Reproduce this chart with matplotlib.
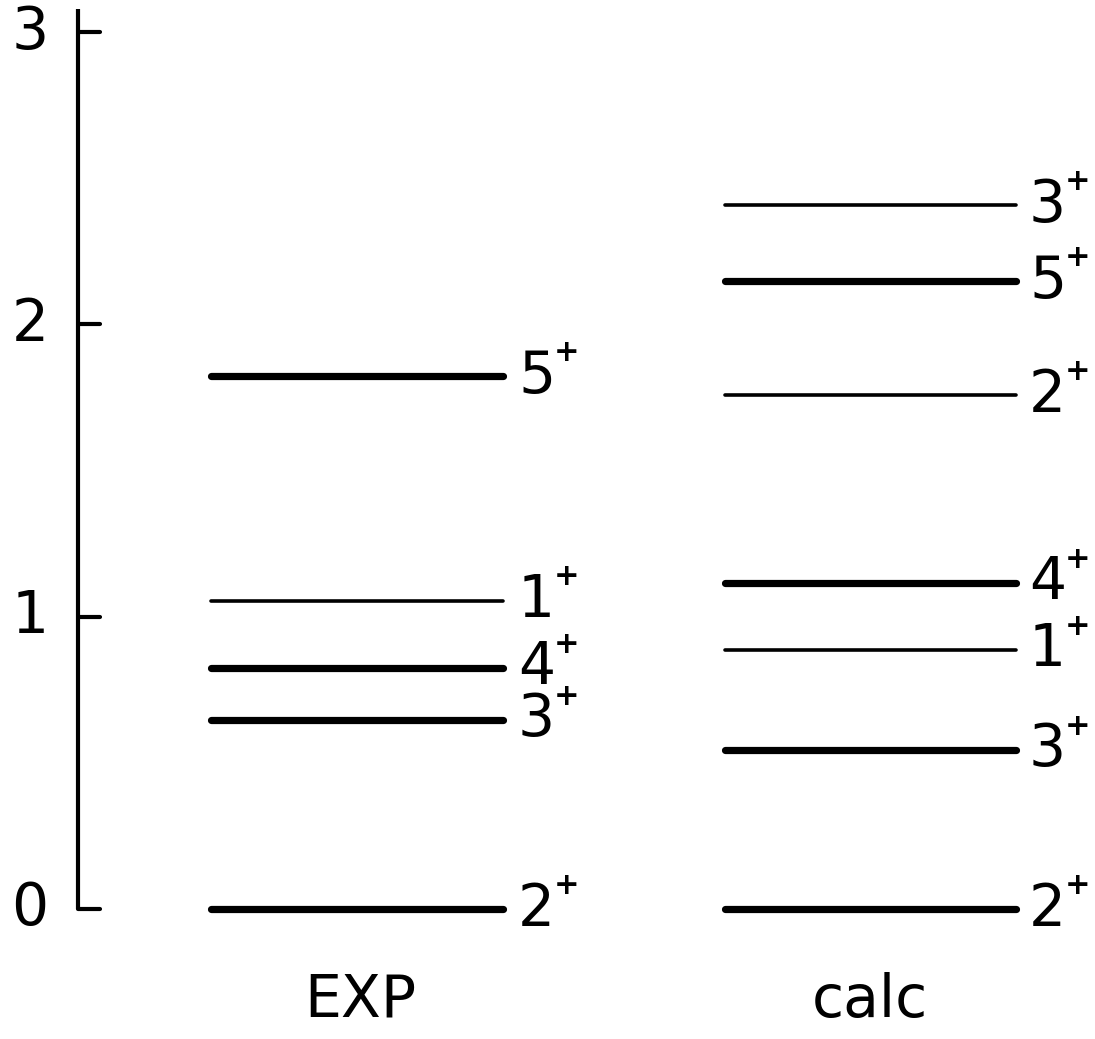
import matplotlib
matplotlib.use("Agg")
import matplotlib.pyplot as plt

# ---- data ----
exp_energies = [0.0, 0.647, 0.825, 1.055, 1.822]
exp_spins = ["2", "3", "4", "1", "5"]
exp_thick = [True, True, True, False, True]

calc_energies = [0.0, 0.545, 0.887, 1.116, 1.757, 2.147, 2.408]
calc_spins = ["2", "3", "1", "4", "2", "5", "3"]
calc_thick = [True, True, False, True, False, True, False]

yticks = [0, 1, 2, 3]
ytick_labels = ["0", "1", "2", "3"]
column_names = ["EXP", "calc"]

# ---- figure ----
W, H, DPI = 1095, 1039, 100
fig = plt.figure(figsize=(W / DPI, H / DPI), dpi=DPI)
ax = fig.add_axes([0, 0, 1, 1])
ax.set_xlim(0, W)
# y=0 at pixel row 909, y=3 at pixel row 32
ppu = (909 - 32) / 3.0
ax.set_ylim((909 - H) / ppu, 909 / ppu)
ax.axis("off")

FONT = dict(family="DejaVu Sans", color="black")
FS = 42
thick_lw, thin_lw = 5.2, 2.6

# vertical energy axis
ax.plot([78, 78], [0, 3.08], color="black", lw=3.0, solid_capstyle="butt")
for t, lab in zip(yticks, ytick_labels):
    ax.plot([78, 100], [t, t], color="black", lw=3.0, solid_capstyle="round")
    ax.text(30, t, lab, ha="center", va="center", fontsize=FS, **FONT)

def draw_column(energies, spins, thick, x0, x1, xlab):
    for e, s, th in zip(energies, spins, thick):
        ax.plot([x0, x1], [e, e], color="black",
                lw=thick_lw if th else thin_lw, solid_capstyle="round")
        ax.annotate(s, xy=(xlab, e), ha="left", va="center",
                    fontsize=FS, **FONT)
        ax.annotate("+", xy=(xlab, e), xytext=(35, 17),
                    textcoords="offset points", ha="center", va="center",
                    fontsize=22, fontweight="bold", **FONT)

draw_column(exp_energies, exp_spins, exp_thick, 211, 503, 518)
draw_column(calc_energies, calc_spins, calc_thick, 725, 1016, 1029)

ax.text(360, (909 - 1000) / ppu, column_names[0], ha="center", va="center",
        fontsize=FS, **FONT)
ax.text(870, (909 - 1000) / ppu, column_names[1], ha="center", va="center",
        fontsize=FS, **FONT)

fig.savefig("out.png", dpi=DPI, facecolor="white")
